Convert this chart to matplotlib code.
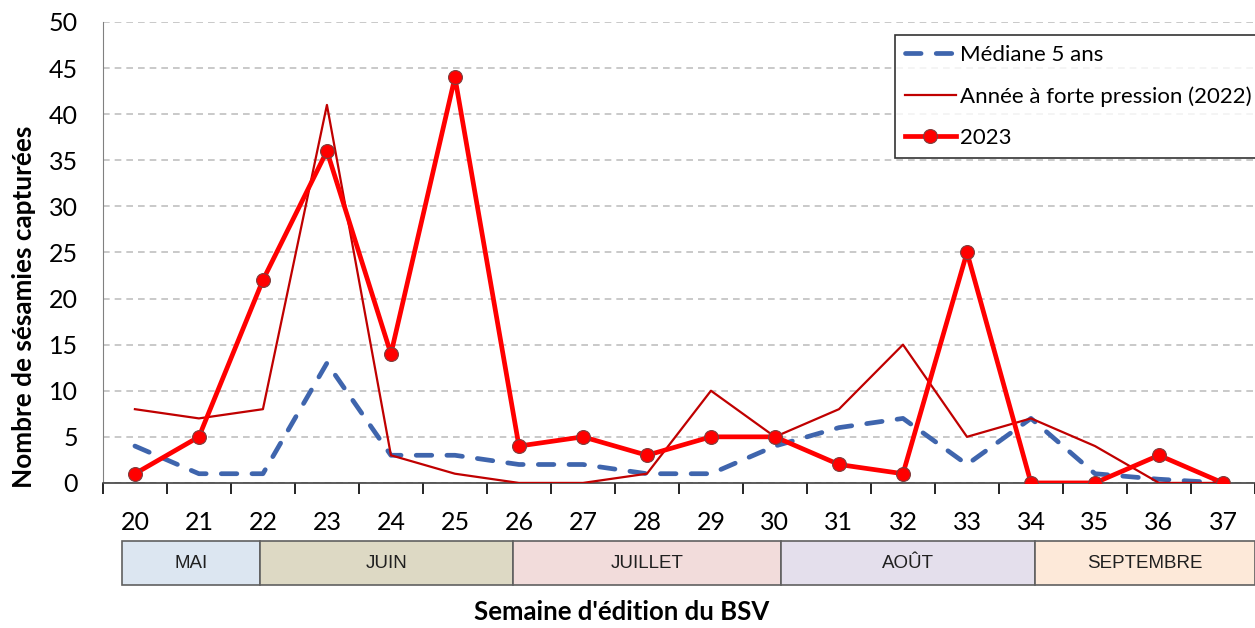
import matplotlib.pyplot as plt
from matplotlib.patches import Rectangle
from matplotlib.transforms import blended_transform_factory
import numpy as np

plt.rcParams['font.family'] = ['Lato', 'DejaVu Sans']

weeks = [20, 21, 22, 23, 24, 25, 26, 27, 28, 29, 30, 31, 32, 33, 34, 35, 36, 37]
mediane = [4, 1, 1, 13, 3, 3, 2, 2, 1, 1, 4, 6, 7, 2, 7, 1, 0.4, 0]
annee_2022 = [8, 7, 8, 41, 3, 1, 0, 0, 1, 10, 5, 8, 15, 5, 7, 4, 0, 0]
annee_2023 = [1, 5, 22, 36, 14, 44, 4, 5, 3, 5, 5, 2, 1, 25, 0, 0, 3, 0]

months = ["MAI", "JUIN", "JUILLET", "AOÛT", "SEPTEMBRE"]
month_colors = ["#dce6f1", "#ddd9c4", "#f2dcdb", "#e4dfec", "#fde9d9"]

fig = plt.figure(figsize=(12.55, 6.28), dpi=100)
ax = fig.add_axes([0.082, 0.231, 0.918, 0.734])

x = np.arange(len(weeks))
ax.plot(x, mediane, color="#3f65ad", lw=3.4, ls=(0, (3.3, 3.2)),
        dash_capstyle="round", label="Médiane 5 ans", zorder=3)
ax.plot(x, annee_2022, color="#c00000", lw=1.6,
        label="Année à forte pression (2022)", zorder=4)
ax.plot(x, annee_2023, color="#ff0000", lw=3.4, marker="o", ms=10,
        mfc="#ff0000", mec="#7f3f3f", mew=0.8, label="2023", zorder=5)

ax.set_xlim(-0.5, len(weeks) - 0.5)
ax.set_ylim(0, 50)
ax.set_yticks(np.arange(0, 51, 5))
ax.yaxis.grid(True, color="#c0c0c0", ls=(0, (4, 3)), lw=1.2)
ax.set_axisbelow(True)
ax.tick_params(axis="y", length=0, pad=18, labelsize=18)

ax.set_xticks(np.arange(-0.5, len(weeks), 1.0))
ax.set_xticklabels([])
ax.set_xticks(x, minor=True)
ax.set_xticklabels([str(w) for w in weeks], minor=True)
ax.tick_params(axis="x", which="major", length=8, width=1.2, direction="out")
ax.tick_params(axis="x", which="minor", length=0, pad=20, labelsize=18)

for s in ["top", "right"]:
    ax.spines[s].set_visible(False)
ax.spines["left"].set_color("#808080")
ax.spines["bottom"].set_color("#404040")
ax.spines["bottom"].set_linewidth(1.2)

fig.text(0.019, 0.512, "Nombre de sésamies capturées", fontsize=18.8, fontweight="bold",
         rotation=90, ha="center", va="center")
fig.text(0.495, 0.026, "Semaine d'édition du BSV", fontsize=18.5, fontweight="bold",
         ha="center", va="center")

# month bands below the axis
trans = blended_transform_factory(ax.transData, fig.transFigure)
edges = [-0.2, 1.96, 5.9, 10.1, 14.06, 17.5]
for i, m in enumerate(months):
    r = Rectangle((edges[i], 0.0685), edges[i + 1] - edges[i], 0.07, transform=trans,
                  facecolor=month_colors[i], edgecolor="#606060", lw=1.2, clip_on=False)
    ax.add_patch(r)
    ax.text((edges[i] + edges[i + 1]) / 2, 0.1035, m, transform=trans,
            ha="center", va="center", fontsize=13.5, color="#202020",
            family="Liberation Sans")

leg = ax.legend(loc="upper right", bbox_to_anchor=(1.006, 0.972), borderaxespad=0,
                fontsize=16, frameon=True, fancybox=False, edgecolor="black",
                handlelength=2.3, borderpad=0.45, labelspacing=0.95, handletextpad=0.2)
leg.get_frame().set_linewidth(1.2)

fig.savefig("out.png", dpi=100)
